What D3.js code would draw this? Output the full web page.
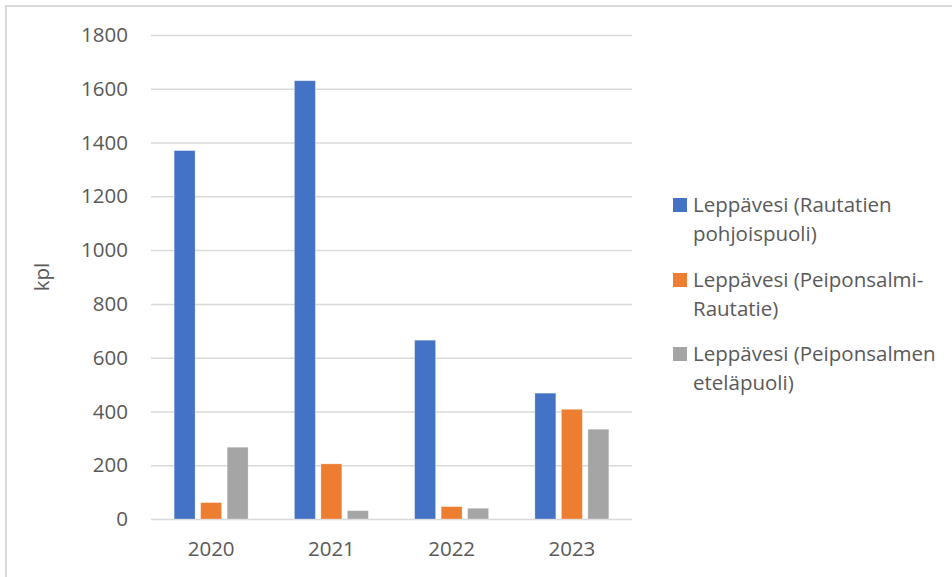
<!DOCTYPE html>
<html>
<head>
<meta charset="utf-8">
<script src="https://cdn.jsdelivr.net/npm/d3@7"></script>
<style>
  html, body { margin: 0; padding: 0; background: #fff; }
  svg { display: block; }
  text { font-family: "Open Sans", "Liberation Sans", sans-serif; fill: #595959; }
</style>
</head>
<body>
<svg id="chart" width="952" height="577"></svg>
<script>
const years = ["2020", "2021", "2022", "2023"];
const seriesNames = [
  "Leppävesi (Rautatien pohjoispuoli)",
  "Leppävesi (Peiponsalmi-Rautatie)",
  "Leppävesi (Peiponsalmen eteläpuoli)"
];
const legendLines = [
  ["Leppävesi (Rautatien", "pohjoispuoli)"],
  ["Leppävesi (Peiponsalmi-", "Rautatie)"],
  ["Leppävesi (Peiponsalmen", "eteläpuoli)"]
];
const rautatienPohjoispuoli = [1370, 1630, 665, 468];
const peiponsalmiRautatie = [61, 205, 46, 408];
const peiponsalmenEtelapuoli = [267, 31, 40, 334];
const seriesValues = [rautatienPohjoispuoli, peiponsalmiRautatie, peiponsalmenEtelapuoli];
const colors = ["#4472C4", "#ED7D31", "#A5A5A5"];
const yTicks = [0, 200, 400, 600, 800, 1000, 1200, 1400, 1600, 1800];
const yLabel = "kpl";

const FS = 20.5;
const svg = d3.select("#chart");
const W = 952, H = 577;

// outer border
svg.append("rect")
  .attr("x", 6).attr("y", 6)
  .attr("width", W + 10).attr("height", H + 10)
  .attr("fill", "none").attr("stroke", "#D9D9D9").attr("stroke-width", 2);

const plot = { left: 151, right: 632, top: 35, bottom: 519 };

const y = d3.scaleLinear().domain([0, 1800]).range([plot.bottom, plot.top]);
const x0 = d3.scaleBand().domain(years).range([plot.left, plot.right])
  .paddingInner(0.385).paddingOuter(0.1925);
const x1 = d3.scaleBand().domain(d3.range(seriesNames.length))
  .range([0, x0.bandwidth()]).paddingInner(0.21).paddingOuter(0);

// gridlines + y tick labels
const yAxis = d3.axisLeft(y).tickValues(yTicks).tickFormat(d3.format("d"))
  .tickSize(-(plot.right - plot.left)).tickPadding(23);
const gy = svg.append("g").attr("transform", `translate(${plot.left},0)`).call(yAxis);
gy.select(".domain").remove();
gy.selectAll(".tick line").attr("stroke", "#D9D9D9").attr("stroke-width", 1.5);
gy.selectAll(".tick text")
  .attr("font-size", FS).attr("fill", "#595959")
  .attr("font-family", "'Open Sans', sans-serif");

// bars
const groups = svg.append("g").selectAll("g")
  .data(years).join("g")
  .attr("transform", d => `translate(${x0(d)},0)`);
groups.selectAll("rect")
  .data((d, i) => seriesValues.map((vals, s) => ({ s, v: vals[i] })))
  .join("rect")
  .attr("x", d => x1(d.s))
  .attr("width", x1.bandwidth())
  .attr("y", d => y(d.v))
  .attr("height", d => y(0) - y(d.v))
  .attr("fill", d => colors[d.s])
  .attr("stroke", "#fff").attr("stroke-opacity", 0.35).attr("stroke-width", 0.8);

// x axis labels
const xAxis = d3.axisBottom(x0).tickSize(0).tickPadding(22);
const gx = svg.append("g").attr("transform", `translate(0,${plot.bottom})`).call(xAxis);
gx.select(".domain").remove();
gx.selectAll(".tick text")
  .attr("font-size", FS).attr("fill", "#595959")
  .attr("font-family", "'Open Sans', sans-serif");

// y label
svg.append("text")
  .attr("transform", `translate(42,277) rotate(-90)`)
  .attr("text-anchor", "middle")
  .attr("dy", "0.35em")
  .attr("font-size", FS)
  .text(yLabel);

// legend
const legY = [205, 280, 354];
const leg = svg.append("g").selectAll("g").data(seriesNames).join("g")
  .attr("transform", (d, i) => `translate(673,${legY[i]})`);
leg.append("rect")
  .attr("x", 0).attr("y", -7).attr("width", 14).attr("height", 14)
  .attr("fill", (d, i) => colors[i]);
leg.each(function(d, i) {
  const g = d3.select(this);
  legendLines[i].forEach((line, j) => {
    g.append("text")
      .attr("x", 20).attr("y", j * 29)
      .attr("dy", "0.35em")
      .attr("font-size", FS)
      .text(line);
  });
});
</script>
</body>
</html>
